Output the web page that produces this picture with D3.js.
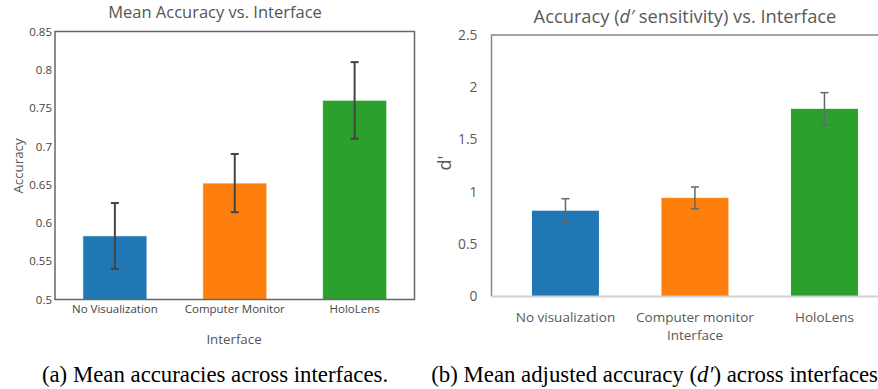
<!DOCTYPE html>
<html><head><meta charset="utf-8">
<script src="https://cdn.jsdelivr.net/npm/d3@7"></script>
<style>body{margin:0;background:#fff}svg{display:block}</style>
</head><body><svg id="c" width="878" height="389"></svg>
<script>
// Panel (a)
const catsA = ["No Visualization", "Computer Monitor", "HoloLens"];
const meanA = [0.583, 0.652, 0.760];
const errA = [0.043, 0.038, 0.050];
const ticksA = [0.5, 0.55, 0.6, 0.65, 0.7, 0.75, 0.8, 0.85];
// Panel (b)
const catsB = [["No visualization"], ["Computer monitor", "Interface"], ["HoloLens"]];
const meanB = [0.817, 0.940, 1.793];
const errB = [0.115, 0.104, 0.155];
const ticksB = [0, 0.5, 1, 1.5, 2, 2.5];
const colors = ["#1f77b4", "#ff7f0e", "#2ca02c"];

const svg = d3.select("#c");

// ---------- Panel A ----------
{
  const L = 55, R = 414.5, T = 31.5, B = 299.5;
  const g = svg.append("g");
  const x = d3.scaleBand().domain(catsA).range([L, R]).paddingInner(0.467).paddingOuter(0.233);
  const y = d3.scaleLinear().domain([0.5, 0.85]).range([B, T]);
  g.append("text").attr("x", 215).attr("y", 17.5).attr("text-anchor", "middle")
    .attr("font-family", "Open Sans").attr("font-size", 16.5).attr("fill", "#555")
    .text("Mean Accuracy vs. Interface");
  g.selectAll("rect.bar").data(meanA).join("rect").attr("class", "bar")
    .attr("x", (d, i) => x(catsA[i])).attr("width", x.bandwidth())
    .attr("y", d => y(d)).attr("height", d => B - y(d))
    .attr("fill", (d, i) => colors[i]).attr("stroke", "rgba(255,255,255,0.5)").attr("stroke-width", 1);
  const eg = g.selectAll("g.err").data(meanA).join("g").attr("class", "err")
    .attr("stroke", "#444").attr("stroke-width", 2);
  eg.append("line").attr("x1", (d, i) => x(catsA[i]) + x.bandwidth() / 2).attr("x2", (d, i) => x(catsA[i]) + x.bandwidth() / 2)
    .attr("y1", (d, i) => y(d + errA[i])).attr("y2", (d, i) => y(d - errA[i]));
  [1, -1].forEach(s => {
    eg.append("line").attr("x1", (d, i) => x(catsA[i]) + x.bandwidth() / 2 - 4).attr("x2", (d, i) => x(catsA[i]) + x.bandwidth() / 2 + 4)
      .attr("y1", (d, i) => y(d + s * errA[i])).attr("y2", (d, i) => y(d + s * errA[i]));
  });
  g.append("rect").attr("x", L).attr("y", T).attr("width", R - L).attr("height", B - T)
    .attr("fill", "none").attr("stroke", "#666").attr("stroke-width", 1.5);
  const ya = g.append("g").attr("transform", `translate(${L},0)`)
    .call(d3.axisLeft(y).tickValues(ticksA).tickSize(0).tickPadding(3).tickFormat(d => String(+d.toFixed(2))));
  ya.select(".domain").remove();
  ya.selectAll("text").attr("font-family", "Open Sans").attr("font-size", 11.5).attr("fill", "#444");
  const xa = g.append("g").attr("transform", `translate(0,${B})`)
    .call(d3.axisBottom(x).tickSize(0).tickPadding(5));
  xa.select(".domain").remove();
  xa.selectAll("text").attr("font-family", "Open Sans").attr("font-size", 11.5).attr("fill", "#444");
  g.append("text").attr("transform", "translate(22.5,166) rotate(-90)").attr("text-anchor", "middle")
    .attr("font-family", "Open Sans").attr("font-size", 13.3).attr("fill", "#555").text("Accuracy");
  g.append("text").attr("x", 234).attr("y", 344).attr("text-anchor", "middle")
    .attr("font-family", "Open Sans").attr("font-size", 13.3).attr("fill", "#555").text("Interface");
  g.append("text").attr("x", 215).attr("y", 382).attr("text-anchor", "middle")
    .attr("font-family", "Liberation Serif").attr("font-size", 22.8).attr("fill", "#000")
    .text("(a) Mean accuracies across interfaces.");
}

// ---------- Panel B ----------
{
  const L = 491.5, T = 35, B = 296;
  const g = svg.append("g");
  const x = d3.scaleBand().domain([0, 1, 2]).range([500.7, 889.2]).paddingInner(0.483).paddingOuter(0.2415);
  const y = d3.scaleLinear().domain([0, 2.5]).range([B, T]);
  const t = g.append("text").attr("x", 685).attr("y", 23).attr("text-anchor", "middle")
    .attr("font-family", "Open Sans").attr("font-size", 18.3).attr("fill", "#595959");
  t.append("tspan").text("Accuracy (");
  t.append("tspan").attr("font-style", "italic").text("d′");
  t.append("tspan").text(" sensitivity) vs. Interface");
  g.selectAll("rect.bar").data(meanB).join("rect").attr("class", "bar")
    .attr("x", (d, i) => x(i)).attr("width", x.bandwidth())
    .attr("y", d => y(d)).attr("height", d => B - y(d))
    .attr("fill", (d, i) => colors[i]);
  const eg = g.selectAll("g.err").data(meanB).join("g").attr("class", "err")
    .attr("stroke", "#666").attr("stroke-width", 1.5);
  eg.append("line").attr("x1", (d, i) => x(i) + x.bandwidth() / 2).attr("x2", (d, i) => x(i) + x.bandwidth() / 2)
    .attr("y1", (d, i) => y(d + errB[i])).attr("y2", (d, i) => y(d - errB[i]));
  [1, -1].forEach(s => {
    eg.append("line").attr("x1", (d, i) => x(i) + x.bandwidth() / 2 - 4).attr("x2", (d, i) => x(i) + x.bandwidth() / 2 + 4)
      .attr("y1", (d, i) => y(d + s * errB[i])).attr("y2", (d, i) => y(d + s * errB[i]));
  });
  g.append("path").attr("d", `M${L},${B}V${T}H878`).attr("fill", "none").attr("stroke", "#888").attr("stroke-width", 1.5);
  g.append("line").attr("x1", L).attr("x2", 878).attr("y1", B + 0.5).attr("y2", B + 0.5)
    .attr("stroke", "#d0d0d0").attr("stroke-width", 2);
  const ya = g.append("g").attr("transform", `translate(${L},0)`)
    .call(d3.axisLeft(y).tickValues(ticksB).tickSize(0).tickPadding(14).tickFormat(d => String(d)));
  ya.select(".domain").remove();
  ya.selectAll("text").attr("font-family", "Open Sans").attr("font-size", 13.8).attr("fill", "#595959");
  const xa = g.append("g").attr("transform", `translate(0,${B})`)
    .call(d3.axisBottom(x).tickSize(0).tickPadding(0).tickFormat(""));
  xa.select(".domain").remove();
  xa.selectAll(".tick").each(function(d) {
    const tx = d3.select(this).select("text").attr("font-family", "Open Sans").attr("font-size", 13.5)
      .attr("fill", "#595959").attr("dy", null).attr("y", 25.5);
    catsB[d].forEach((s, k) => tx.append("tspan").attr("x", 0).attr("dy", k === 0 ? 0 : 18.5).text(s));
  });
  g.append("text").attr("transform", "translate(451,163) rotate(-90)").attr("text-anchor", "middle")
    .attr("font-family", "Open Sans").attr("font-size", 18).attr("fill", "#595959").text("d'");
  const c = g.append("text").attr("x", 878).attr("y", 382).attr("text-anchor", "end")
    .attr("font-family", "Liberation Serif").attr("font-size", 22.8).attr("fill", "#000");
  c.append("tspan").text("(b) Mean adjusted accuracy (");
  c.append("tspan").attr("font-style", "italic").text("d′");
  c.append("tspan").text(") across interfaces");
}
</script></body></html>
